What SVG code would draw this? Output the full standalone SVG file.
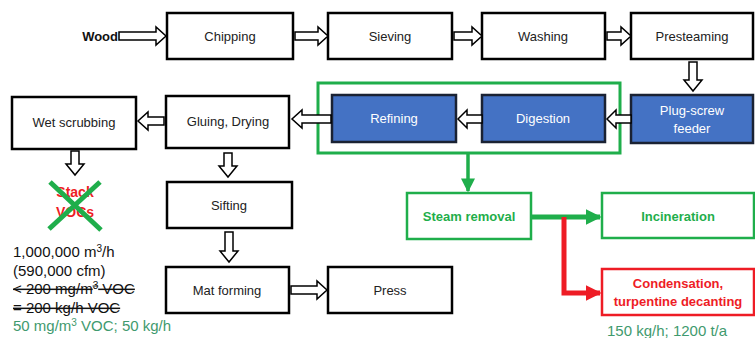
<svg xmlns="http://www.w3.org/2000/svg" width="755" height="338" viewBox="0 0 755 338">
<defs>
<style>
.box{fill:#fff;stroke:#000;stroke-width:2.5}
.blue{fill:#4472c4;stroke:#1a2233;stroke-width:2.5}
.gbox{fill:#fff;stroke:#1fae4b;stroke-width:2.5}
.rbox{fill:#fff;stroke:#ee1c25;stroke-width:2.5}
.t{font-family:"Liberation Sans",Arial,sans-serif;font-size:13px;fill:#222;text-anchor:middle}
.tw{font-family:"Liberation Sans",Arial,sans-serif;font-size:13px;fill:#fff;text-anchor:middle}
.tg{font-family:"Liberation Sans",Arial,sans-serif;font-size:13px;font-weight:bold;fill:#1fae4b;text-anchor:middle}
.tr{font-family:"Liberation Sans",Arial,sans-serif;font-size:13px;font-weight:bold;fill:#ee1c25;text-anchor:middle}
.ha{fill:#fff;stroke:#000;stroke-width:1.5;stroke-linejoin:miter}
.note{font-family:"Liberation Sans",Arial,sans-serif;font-size:15px;fill:#111}
.noteg{font-family:"Liberation Sans",Arial,sans-serif;font-size:15px;fill:#3f9a6e}
</style>
<marker id="gh" viewBox="0 0 10 10" refX="9" refY="5" markerWidth="4" markerHeight="4" orient="auto" markerUnits="strokeWidth"><path d="M0,0 L10,5 L0,10 z" fill="#1fae4b"/></marker>
<marker id="gh2" viewBox="0 0 10 10" refX="9" refY="5" markerWidth="3.2" markerHeight="3.2" orient="auto" markerUnits="strokeWidth"><path d="M0,0 L10,5 L0,10 z" fill="#1fae4b"/></marker>
<marker id="rh" viewBox="0 0 10 10" refX="9" refY="5" markerWidth="3.2" markerHeight="3.2" orient="auto" markerUnits="strokeWidth"><path d="M0,0 L10,5 L0,10 z" fill="#ee1c25"/></marker>
</defs>

<g id="wood"><text x="118" y="41" font-family="Liberation Sans,Arial,sans-serif" font-size="13" font-weight="bold" fill="#111" text-anchor="end">Wood</text></g>
<g id="chipping"><rect class="box" x="167" y="13" width="126" height="46"/><text class="t" x="230" y="41">Chipping</text></g>
<g id="sieving"><rect class="box" x="328" y="13" width="124" height="46"/><text class="t" x="390" y="41">Sieving</text></g>
<g id="washing"><rect class="box" x="482" y="13" width="123" height="46"/><text class="t" x="543" y="41">Washing</text></g>
<g id="presteaming"><rect class="box" x="631" y="13" width="122" height="46"/><text class="t" x="692" y="41">Presteaming</text></g>

<g id="green-frame"><rect x="318" y="83" width="302" height="70" fill="none" stroke="#1fae4b" stroke-width="3"/></g>
<g id="refining"><rect class="blue" x="332" y="95" width="124" height="47"/><text class="tw" x="394" y="123">Refining</text></g>
<g id="digestion"><rect class="blue" x="482" y="95" width="123" height="47"/><text class="tw" x="543" y="123">Digestion</text></g>
<g id="plug-screw"><rect class="blue" x="631" y="95" width="122" height="48"/><text class="tw" x="692" y="115">Plug-screw</text><text class="tw" x="692" y="133">feeder</text></g>

<g id="gluing"><rect class="box" x="166" y="96" width="123" height="52"/><text class="t" x="228" y="126">Gluing, Drying</text></g>
<g id="wet-scrubbing"><rect class="box" x="12" y="97" width="124" height="52"/><text class="t" x="74" y="127">Wet scrubbing</text></g>

<g id="stack"><text x="75" y="197" font-family="Liberation Sans,Arial,sans-serif" font-size="14" font-weight="bold" fill="#ee1c25" text-anchor="middle">Stack</text><text x="75" y="217" font-family="Liberation Sans,Arial,sans-serif" font-size="14" font-weight="bold" fill="#ee1c25" text-anchor="middle">VOCs</text>
<path d="M50,182 L101,230 M100,182 L49,229" stroke="#1fae4b" stroke-width="5" fill="none"/></g>

<g id="notes">
<text class="note" x="13" y="257">1,000,000 m<tspan font-size="10" dy="-5">3</tspan><tspan dy="5">/h</tspan></text>
<text class="note" x="13" y="276">(590,000 cfm)</text>
<text class="note" x="13" y="294" text-decoration="line-through">&lt; 200 mg/m<tspan font-size="10" dy="-5">3</tspan><tspan dy="5"> VOC</tspan></text>
<text class="note" x="13" y="313" text-decoration="line-through">= 200 kg/h VOC</text>
<text class="noteg" x="13" y="331">50 mg/m<tspan font-size="10" dy="-5">3</tspan><tspan dy="5"> VOC; 50 kg/h</tspan></text>
</g>

<g id="sifting"><rect class="box" x="167" y="182" width="125" height="46"/><text class="t" x="229" y="210">Sifting</text></g>
<g id="mat-forming"><rect class="box" x="166" y="267" width="123" height="46"/><text class="t" x="227" y="295">Mat forming</text></g>
<g id="press"><rect class="box" x="328" y="267" width="124" height="46"/><text class="t" x="390" y="295">Press</text></g>

<g id="steam-removal"><rect class="gbox" x="407" y="193" width="124" height="46"/><text class="tg" x="469" y="221">Steam removal</text></g>
<g id="incineration"><rect class="gbox" x="602" y="193" width="152" height="45"/><text class="tg" x="678" y="221">Incineration</text></g>
<g id="condensation"><rect class="rbox" x="602" y="269" width="152" height="46"/><text class="tr" x="678" y="288">Condensation,</text><text class="tr" x="678" y="306">turpentine decanting</text></g>
<g id="yield"><text class="noteg" x="607" y="336">150 kg/h; 1200 t/a</text></g>

<g id="connectors">
<!-- horizontal right arrows -->
<path class="ha" d="M119,32 L156,32 L156,27 L166,36 L156,45 L156,40 L119,40 Z"/>
<path class="ha" d="M295,32 L318,32 L318,27 L328,36 L318,45 L318,40 L295,40 Z"/>
<path class="ha" d="M454,32 L472,32 L472,27 L482,36 L472,45 L472,40 L454,40 Z"/>
<path class="ha" d="M607,32 L621,32 L621,27 L631,36 L621,45 L621,40 L607,40 Z"/>
<path class="ha" d="M291,286 L317,286 L317,281 L327,290 L317,299 L317,294 L291,294 Z"/>
<!-- left arrows -->
<path class="ha" d="M631,115 L616,115 L616,110 L607,119 L616,128 L616,123 L631,123 Z"/>
<path class="ha" d="M482,115 L467,115 L467,110 L458,119 L467,128 L467,123 L482,123 Z"/>
<path class="ha" d="M331,115 L302,115 L302,110 L292,119 L302,128 L302,123 L331,123 Z"/>
<path class="ha" d="M164,117 L148,117 L148,112 L138,121 L148,130 L148,125 L164,125 Z"/>
<!-- down arrows -->
<path class="ha" d="M689,62 L697,62 L697,80 L702,80 L693,91 L684,80 L689,80 Z"/>
<path class="ha" d="M71,151 L79,151 L79,164 L84,164 L75,175 L66,164 L71,164 Z"/>
<path class="ha" d="M224,153 L232,153 L232,166 L237,166 L228,177 L219,166 L224,166 Z"/>
<path class="ha" d="M225,232 L233,232 L233,251 L238,251 L229,262 L220,251 L225,251 Z"/>
<!-- green / red flows -->
<path d="M468,154 L468,191" stroke="#1fae4b" stroke-width="3.5" fill="none" marker-end="url(#gh)"/>
<path d="M532,217 L600,217" stroke="#1fae4b" stroke-width="5" fill="none" marker-end="url(#gh2)"/>
<path d="M564,217 L564,293 L600,293" stroke="#ee1c25" stroke-width="5" fill="none" stroke-linejoin="miter" marker-end="url(#rh)"/>
</g>
</svg>
